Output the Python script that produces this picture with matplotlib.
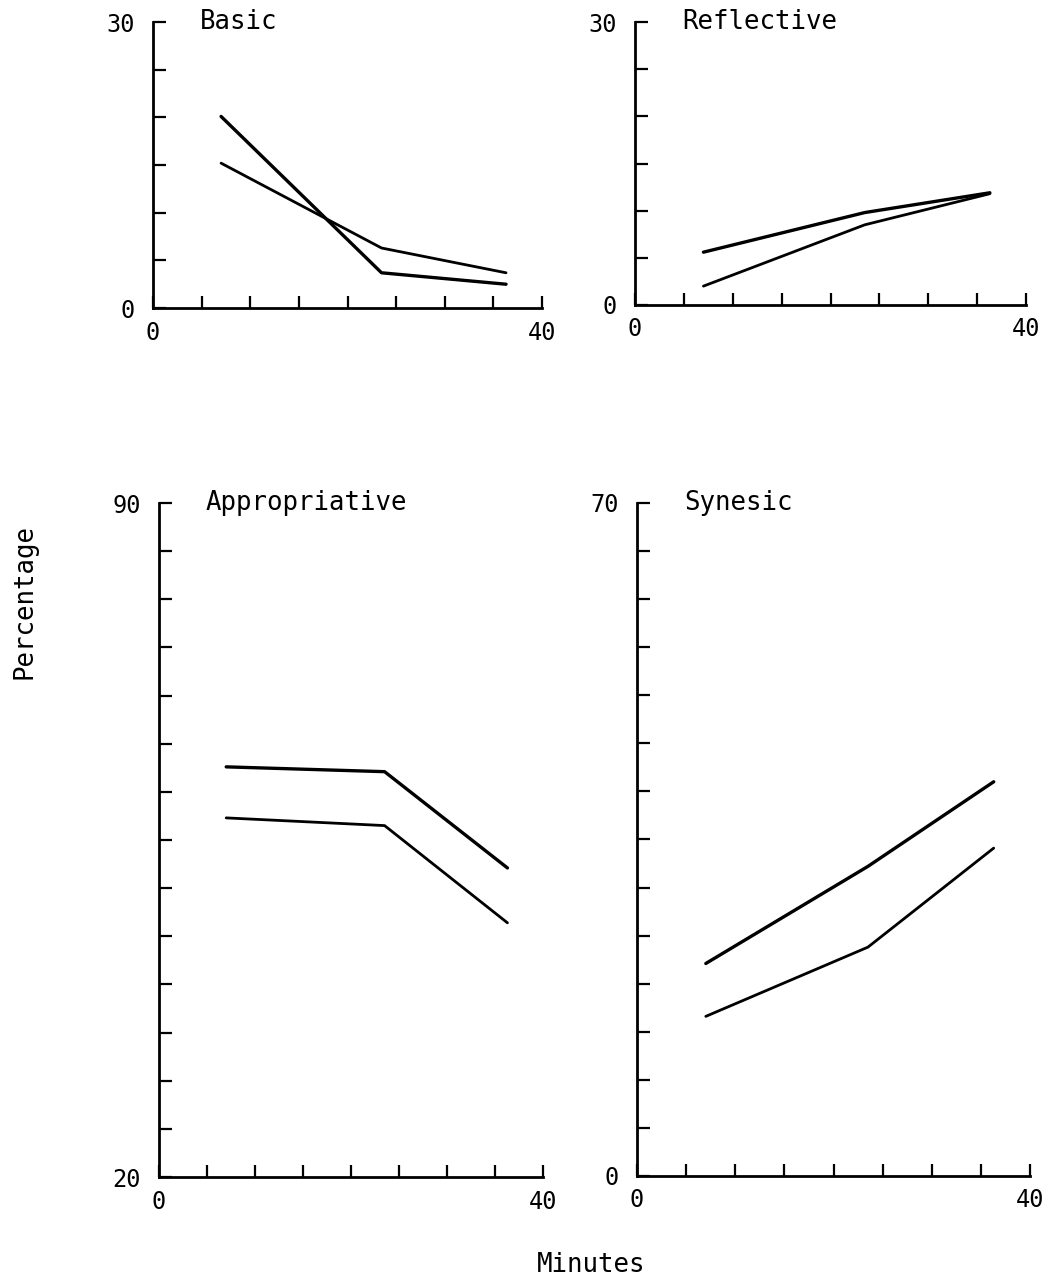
"""
Four-panel percentage-over-time figure (Basic, Reflective, Appropriative,
Synesic), drawn in a plain typewriter-era style: left/bottom axes only,
inward ticks every 5 units, labels only at the axis ends.
"""

import matplotlib
matplotlib.use("Agg")
import matplotlib.pyplot as plt
from matplotlib.ticker import FixedFormatter

# Sampling times (minutes), shared by every series.
minutes = [7, 23.5, 36.3]

basic_a = [20.1, 3.7, 2.5]
basic_b = [15.2, 6.3, 3.7]
reflective_a = [5.6, 9.8, 11.9]
reflective_b = [2.0, 8.5, 11.8]
appropriative_a = [62.6, 62.1, 52.1]
appropriative_b = [57.3, 56.5, 46.4]
synesic_a = [22.1, 32.2, 41.0]
synesic_b = [16.6, 23.8, 34.1]

titles = ["Basic", "Reflective", "Appropriative", "Synesic"]
y_ranges = [(0, 30), (0, 30), (20, 90), (0, 70)]
x_range = (0, 40)

MONO = "DejaVu Sans Mono"
FS = 17          # tick labels
FS_TXT = 18.5    # panel names and axis names (wide typewriter face)


def style_axis(ax, ylo, yhi, title):
    """Bare left/bottom spines, inward ticks every 5, end labels only."""
    for side in ("top", "right"):
        ax.spines[side].set_visible(False)
    for side in ("left", "bottom"):
        ax.spines[side].set_linewidth(2.0)

    ax.set_xlim(*x_range)
    ax.set_ylim(ylo, yhi)

    xt = list(range(x_range[0], x_range[1] + 1, 5))
    yt = list(range(ylo, yhi + 1, 5))
    ax.set_xticks(xt)
    ax.set_yticks(yt)
    ax.xaxis.set_major_formatter(
        FixedFormatter([str(v) if v in x_range else "" for v in xt]))
    ax.yaxis.set_major_formatter(
        FixedFormatter([str(v) if v in (ylo, yhi) else "" for v in yt]))

    ax.tick_params(direction="in", length=9, width=1.6, labelsize=FS)
    ax.tick_params(axis="y", pad=13)
    ax.tick_params(axis="x", pad=9)
    for lab in ax.get_xticklabels() + ax.get_yticklabels():
        lab.set_family(MONO)

    ax.text(0.12, 1.0, title, transform=ax.transAxes, ha="left",
            va="center", fontsize=FS_TXT, family=MONO, clip_on=False)


fig = plt.figure(figsize=(10.58, 12.82), dpi=100)

# Axes rectangles measured off the page (left, bottom, width, height).
rects = [
    (0.1446, 0.7597, 0.3677, 0.2231),
    (0.6002, 0.7621, 0.3696, 0.2207),
    (0.1503, 0.0819, 0.3629, 0.5257),
    (0.6021, 0.0827, 0.3715, 0.5250),
]
series = [
    (basic_a, basic_b),
    (reflective_a, reflective_b),
    (appropriative_a, appropriative_b),
    (synesic_a, synesic_b),
]

for rect, (a, b), title, (ylo, yhi) in zip(rects, series, titles, y_ranges):
    ax = fig.add_axes(rect)
    ax.plot(minutes, a, color="black", lw=2.4, solid_capstyle="round",
            solid_joinstyle="round", clip_on=False)
    ax.plot(minutes, b, color="black", lw=2.0, solid_capstyle="round",
            solid_joinstyle="round", clip_on=False)
    style_axis(ax, ylo, yhi, title)

fig.text(0.023, 0.531, "Percentage", rotation=90, ha="center", va="center",
         fontsize=FS_TXT, family=MONO)
fig.text(0.559, 0.013, "Minutes", ha="center", va="center",
         fontsize=FS_TXT, family=MONO)

fig.savefig("out.png", dpi=100, facecolor="white")
